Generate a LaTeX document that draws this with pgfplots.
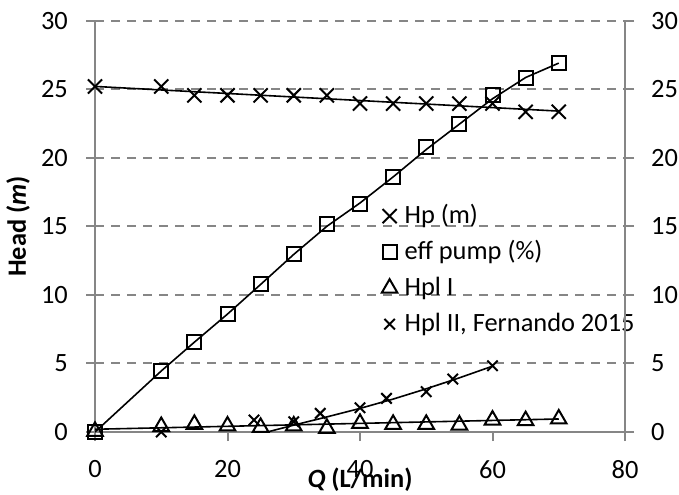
\documentclass[border=0pt]{standalone}
\usepackage{pgfplots}
\pgfplotsset{compat=1.18}
\usepackage{fontspec}
\setmainfont{Carlito}
\definecolor{axgray}{RGB}{134,134,134}
\newcommand{\fnt}{\fontsize{13.2bp}{15bp}\selectfont}
\begin{document}
\fnt
\begin{tikzpicture}
\pgfplotsset{
  common/.style={
    scale only axis, width=265bp, height=205.7bp,
    xmin=0, xmax=80, ymin=0, ymax=30,
    ytick={0,5,...,30},
    axis line style={draw=axgray, line width=1bp},
    tick style={draw=axgray, line width=1bp},
    tick align=outside, major tick length=4.5bp,
    /pgf/number format/assume math mode=true,
    tick label style={font=\fnt},
  }
}
\begin{axis}[common,
  axis x line*=bottom, axis y line*=left,
  xtick={0,20,...,80},
  ymajorgrids,
  grid style={draw=axgray, line width=1bp, dash pattern=on 4.5bp off 3.5bp},
  xticklabel style={yshift=-5bp},
  yticklabel style={xshift=-4.5bp},
  xlabel={\textbf{\textit{Q} (L/min)}},
  ylabel={\textbf{Head (\textit{m})}},
  every axis x label/.style={at={(axis description cs:0.5,-0.134)}, anchor=base, font=\fnt},
  every axis y label/.style={at={(axis description cs:-0.1453,0.5)}, anchor=center, rotate=90, font=\fnt},
  legend style={at={(axis cs:42.9,11.8)}, anchor=west, draw=none, fill=none, inner sep=0pt,
    row sep=5.8bp, font=\fnt,
    nodes={inner sep=0pt, text height=10bp, text depth=2.2bp}},
  legend cell align=left,
  legend image code/.code={\draw[#1] plot[only marks] coordinates {(0bp,0bp)}; \path[draw=none,fill=none] (-5bp,-4bp) (7.5bp,4bp);},
]
% Hp (m)
\addplot[only marks, mark=x, mark size=5bp, mark options={line width=1bp, black}]
  coordinates {(0,25.2)(10,25.2)(15,24.55)(20,24.55)(25,24.55)(30,24.55)(35,24.55)
  (40,23.95)(45,23.95)(50,23.95)(55,23.95)(60,23.95)(65,23.35)(70,23.35)};
\addlegendentry{Hp (m)}
% eff pump
\addplot[only marks, mark=square, mark size=3.5bp, mark options={line width=1bp, draw=black, fill=white}]
  coordinates {(0,0)(10,4.45)(15,6.55)(20,8.6)(25,10.76)(30,12.95)(35,15.15)
  (40,16.6)(45,18.6)(50,20.75)(55,22.45)(60,24.55)(65,25.85)(70,26.9)};
\addlegendentry{eff pump (\%)}
% Hpl I
\addplot[only marks, mark=triangle, mark size=4.5bp, mark options={line width=1bp, draw=black, fill=white}]
  coordinates {(0,0.05)(10,0.4)(15,0.56)(20,0.44)(25,0.34)(30,0.44)(35,0.27)
  (40,0.63)(45,0.56)(50,0.56)(55,0.51)(60,0.87)(65,0.83)(70,0.95)};
\addlegendentry{Hpl I}
% Hpl II
\addplot[only marks, mark=x, mark size=3.7bp, mark options={line width=1bp, black}]
  coordinates {(10,0.0)(24,0.87)(30,0.75)(34,1.36)(40,1.77)(44,2.45)(50,2.94)(54,3.86)(60,4.83)};
\addlegendentry{Hpl II, Fernando 2015}
% trend lines
\addplot[forget plot, black, line width=0.8bp] coordinates {(0,25.2)(70,23.4)};
\addplot[forget plot, black, line width=0.8bp] coordinates {(0,0)(10,4.45)(15,6.55)(20,8.6)(25,10.76)(30,12.95)(35,15.0)
  (40,16.7)(45,18.6)(50,20.6)(55,22.45)(60,24.3)(65,25.85)(70,26.9)};
\addplot[forget plot, black, line width=0.8bp] coordinates {(0,0.2)(70,0.95)};
\addplot[forget plot, black, line width=0.8bp] coordinates {(26,0)(30,0.5)(35,1.1)(40,1.72)(45,2.4)(50,3.15)(55,3.95)(60,4.8)};
\coordinate (bl) at (rel axis cs:0,0);
\coordinate (tr) at (rel axis cs:1,1);
\end{axis}
\begin{axis}[common,
  axis x line=none, axis y line*=right,
  yticklabel pos=right,
  yticklabel style={xshift=4bp},
]
\end{axis}
\pgfresetboundingbox
\path ([shift={(-47.5bp,-31.5bp)}]bl) rectangle ([shift={(27bp,10.3bp)}]tr);
\end{tikzpicture}
\end{document}
